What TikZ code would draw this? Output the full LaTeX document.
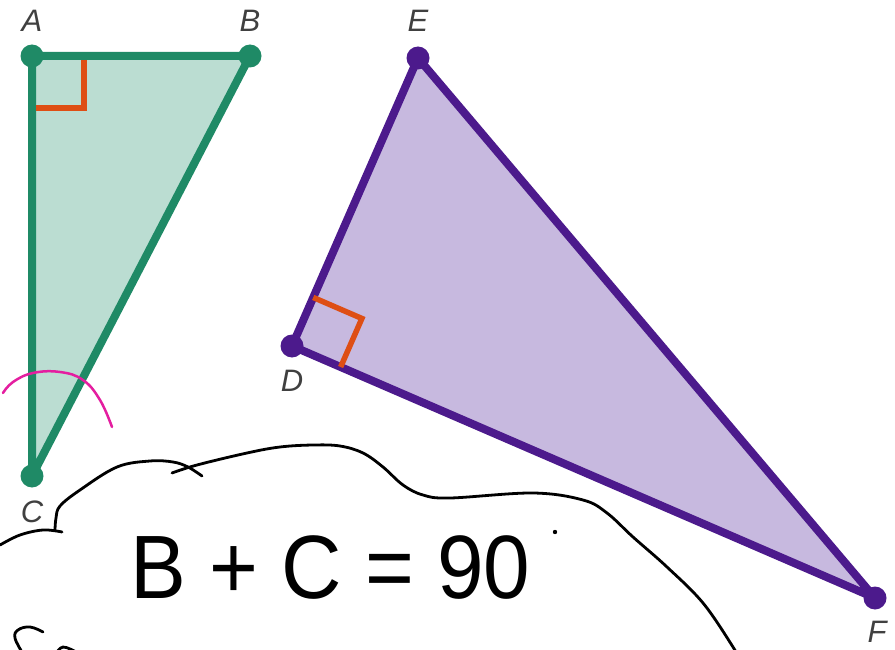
\documentclass[tikz,border=0pt]{standalone}
\usepackage{fontspec}
\setmainfont{Liberation Sans}
\usetikzlibrary{calc}
\definecolor{grn}{RGB}{31,138,102}
\definecolor{grnfill}{RGB}{187,221,210}
\definecolor{pur}{RGB}{76,26,140}
\definecolor{purfill}{RGB}{199,185,223}
\definecolor{org}{RGB}{222,78,20}
\definecolor{lbl}{RGB}{64,64,64}
\definecolor{mag}{RGB}{228,30,160}
\tikzset{
  vlabel/.style={text=lbl,font=\fontsize{31}{33}\selectfont\itshape,inner sep=0pt},
  gside/.style={draw=grn,line width=8pt,line join=round,fill=grnfill},
  pside/.style={draw=pur,line width=8pt,line join=round,fill=purfill},
  rmark/.style={draw=org,line width=5.5pt},
  ink/.style={draw=black,line width=2.8pt,line cap=round,line join=round},
  hand/.style={font=\fontsize{90}{94}\selectfont,inner sep=0pt,text=black}
}
\begin{document}
\begin{tikzpicture}[x=1pt,y=-1pt]
\useasboundingbox (0,0) rectangle (895,650);
% green triangle
\coordinate (A) at (32,56);
\coordinate (B) at (250,56);
\coordinate (C) at (32,476);
\path[gside] (A) -- (B) -- (C) -- cycle;
\draw[rmark] (36,108) -- (84,108) -- (84,60);
\fill[grn] (A) circle (11.5) (B) circle (11.5) (C) circle (11.5);
\node[vlabel] (lA) at (32,21) {A};
\node[vlabel] (lB) at (250,21) {B};
\node[vlabel] (lC) at (32,512) {C};
% purple triangle
\coordinate (E) at (418,58);
\coordinate (D) at (292,346);
\coordinate (F) at (875,598);
\path[pside] (E) -- (D) -- (F) -- cycle;
\coordinate (dE) at ($(D)!53pt!(E)$);
\coordinate (dF) at ($(D)!53pt!(F)$);
\coordinate (dC) at ($(dE)+(dF)-(D)$);
\draw[rmark] (dE) -- (dC) -- (dF);
\fill[pur] (D) circle (11.5) (E) circle (11.5) (F) circle (11.5);
\node[vlabel] (lD) at (292,381) {D};
\node[vlabel] (lE) at (418,21) {E};
\node[vlabel] (lF) at (877,632) {F};
% magenta arc
\draw[mag,line width=2.5pt,line cap=round] plot[smooth,tension=0.7] coordinates {(3,393) (13,382) (33,373) (60,372) (83,380) (100,400) (112,427)};
% cloud strokes
\draw[ink] plot[smooth,tension=0.6] coordinates {(0,545) (20,535) (43,530) (62,532)};
\draw[ink] plot[smooth,tension=0.6] coordinates {(55,530) (56,518) (60,506) (80,490) (117,467) (150,461) (173,462) (188,467) (202,476)};
\draw[ink] plot[smooth,tension=0.6] coordinates {(172,473) (197,465) (247,453) (280,447) (313,445) (340,446) (363,453) (383,467) (403,485) (423,495) (450,498) (533,493) (583,500) (607,513) (633,537) (667,567) (703,603) (733,647) (737,656)};
% partial letter bottom left
\draw[ink] plot[smooth,tension=0.7] coordinates {(43,632) (30,627) (18,630) (15,638) (22,652)};
\draw[ink] plot[smooth,tension=0.7] coordinates {(56,654) (63,647) (76,652)};
% equation
\node[hand,anchor=base west,xscale=0.93] (eq) at (130,598) {B + C = 90};
\fill[black] (555,532) circle (2.2);
\end{tikzpicture}
\end{document}
